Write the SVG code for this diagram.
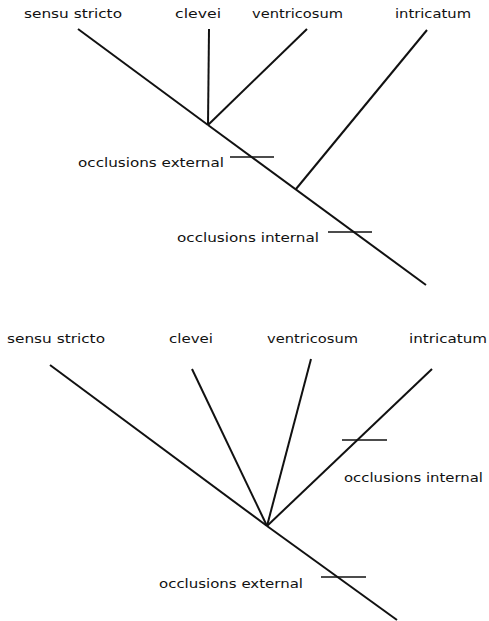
<svg xmlns="http://www.w3.org/2000/svg" width="489" height="621" viewBox="0 0 489 621">
<style>
text{font-family:"DejaVu Sans","Liberation Sans",sans-serif;font-size:12px;fill:#111}
.e{stroke:#111;stroke-width:2;fill:none;stroke-linecap:butt}
.t{stroke:#111;stroke-width:1.6}
</style>
<rect width="489" height="621" fill="#fff"/>
<g id="top-labels">
<g id="t-sensu"><text x="24" y="18" textLength="98" lengthAdjust="spacingAndGlyphs">sensu stricto</text></g>
<g id="t-clevei"><text x="175" y="18" textLength="46" lengthAdjust="spacingAndGlyphs">clevei</text></g>
<g id="t-ventricosum"><text x="252" y="18" textLength="91" lengthAdjust="spacingAndGlyphs">ventricosum</text></g>
<g id="t-intricatum"><text x="395" y="18" textLength="76" lengthAdjust="spacingAndGlyphs">intricatum</text></g>
<g id="t-ext"><text x="78" y="167" textLength="146" lengthAdjust="spacingAndGlyphs">occlusions external</text></g>
<g id="t-int"><text x="177" y="242" textLength="142" lengthAdjust="spacingAndGlyphs">occlusions internal</text></g>
</g>
<g id="top-connectors">
<line class="e" x1="78" y1="29" x2="208" y2="125"/>
<line class="e" x1="209" y1="29" x2="208" y2="125"/>
<line class="e" x1="307" y1="29" x2="208" y2="125"/>
<line class="e" x1="208" y1="125" x2="426" y2="285"/>
<line class="e" x1="427" y1="30" x2="296" y2="189"/>
<line class="t" x1="230" y1="157" x2="274" y2="157"/>
<line class="t" x1="328" y1="232" x2="372" y2="232"/>
</g>
<g id="bottom-labels">
<g id="b-sensu"><text x="7" y="343" textLength="98" lengthAdjust="spacingAndGlyphs">sensu stricto</text></g>
<g id="b-clevei"><text x="169" y="343" textLength="44" lengthAdjust="spacingAndGlyphs">clevei</text></g>
<g id="b-ventricosum"><text x="267" y="343" textLength="91" lengthAdjust="spacingAndGlyphs">ventricosum</text></g>
<g id="b-intricatum"><text x="409" y="343" textLength="78" lengthAdjust="spacingAndGlyphs">intricatum</text></g>
<g id="b-int"><text x="344" y="482" textLength="139" lengthAdjust="spacingAndGlyphs">occlusions internal</text></g>
<g id="b-ext"><text x="159" y="588" textLength="144" lengthAdjust="spacingAndGlyphs">occlusions external</text></g>
</g>
<g id="bottom-connectors">
<line class="e" x1="50" y1="365" x2="267" y2="526"/>
<line class="e" x1="192" y1="369" x2="267" y2="526"/>
<line class="e" x1="311" y1="359" x2="267" y2="526"/>
<line class="e" x1="432" y1="369" x2="267" y2="526"/>
<line class="e" x1="267" y1="526" x2="397" y2="620"/>
<line class="t" x1="342" y1="440" x2="387" y2="440"/>
<line class="t" x1="321" y1="577" x2="366" y2="577"/>
</g>
</svg>
